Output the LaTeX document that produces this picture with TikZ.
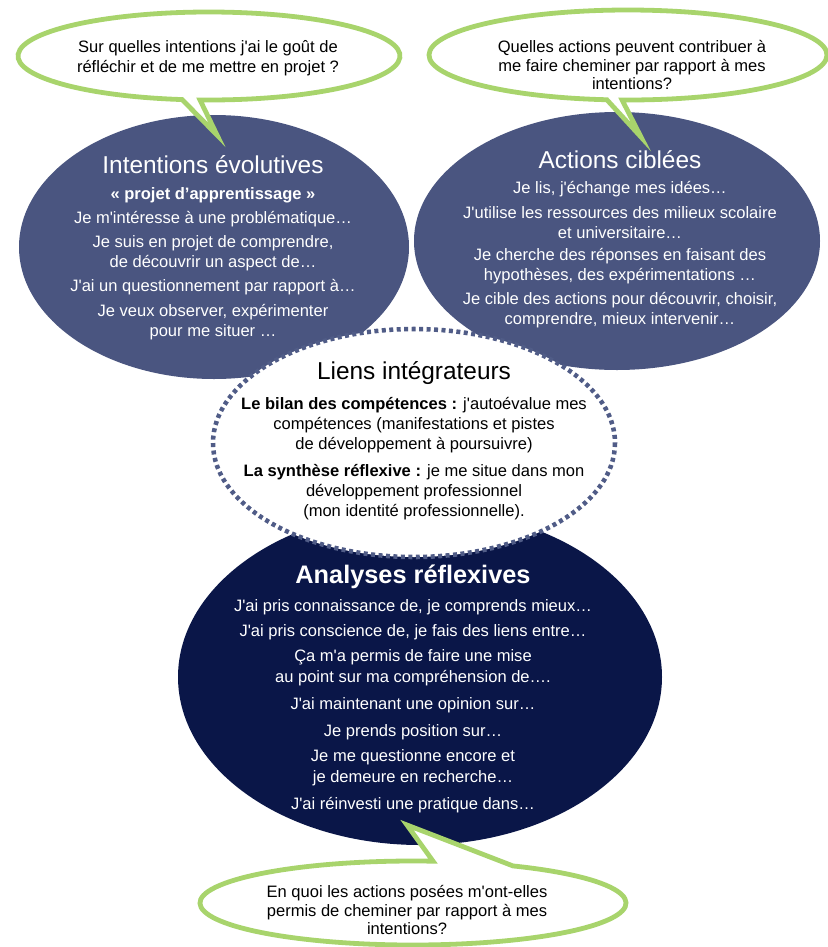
\documentclass[tikz,border=0pt]{standalone}
\usepackage{fontspec}
\setmainfont{Liberation Sans}[Ligatures=TeXOff]
\definecolor{slate}{RGB}{74,85,128}
\definecolor{deepnavy}{RGB}{10,22,72}
\definecolor{leaf}{RGB}{168,212,108}
\definecolor{dotc}{RGB}{80,92,135}
\tikzset{
  bubble/.style={draw=leaf, line width=3.6pt, fill=white, line join=miter},
  bodytxt/.style={align=center, inner sep=0pt, font=\fontsize{12.4}{15}\selectfont},
  boldtxt/.style={align=center, inner sep=0pt, font=\fontsize{12.4}{15}\selectfont\bfseries},
  bubtxt/.style={align=center, inner sep=0pt, text=black, font=\fontsize{12.4}{13.8}\selectfont},
  titletxt/.style={inner sep=0pt, font=\fontsize{18.3}{20}\selectfont},
  bigbold/.style={inner sep=0pt, font=\fontsize{19}{21}\selectfont\bfseries},
}
\begin{document}
\begin{tikzpicture}[x=0.75pt,y=-0.75pt]
\useasboundingbox (0,0) rectangle (828,947);
\fill[white] (0,0) rectangle (828,947);

% navy ellipses
\fill[slate] (214,247) ellipse [x radius=195, y radius=132];
\fill[slate] (617,241) ellipse [x radius=203, y radius=129];
\fill[deepnavy] (420,677) ellipse [x radius=242, y radius=168];

% dotted middle ellipse
\draw[dotc, fill=white, line width=3.4pt, dash pattern=on 3pt off 2.6pt] (414,443) ellipse [x radius=201, y radius=114];

% speech bubbles
\coordinate (tipA) at (217,135);
\coordinate (tipB) at (641,137);
\coordinate (tipC) at (407,825);
\draw[bubble] (209,56) ++(98.1:191 and 44) arc[start angle=98.1, end angle=452.7, x radius=191, y radius=44] -- (tipA) -- cycle;
\draw[bubble] (628,55) ++(96.1:199 and 45) arc[start angle=96.1, end angle=451.7, x radius=199, y radius=45] -- (tipB) -- cycle;
\draw[bubble] (413,903) ++(298:213 and 42) arc[start angle=298, end angle=635.4, x radius=213, y radius=42] -- (tipC) -- cycle;

% bubble texts
\node[bubtxt] (qA) at (208,58) {Sur quelles intentions j'ai le goût de\\[1.2pt]réfléchir et de me mettre en projet ?};
\node[bubtxt] (qB) at (632,65) {Quelles actions peuvent contribuer à\\me faire cheminer par rapport à mes\\intentions?};
\node[bubtxt] (qC) at (407,910) {En quoi les actions posées m'ont-elles\\permis de cheminer par rapport à mes\\intentions?};

% left ellipse texts
\begin{scope}[text=white]
\node[titletxt] (iT) at (213,165) {Intentions évolutives};
\node[boldtxt] (i0) at (213,195) {« projet d’apprentissage »};
\node[bodytxt] (i1) at (213,219) {Je m'intéresse à une problématique…};
\node[bodytxt] (i2) at (213,253) {Je suis en projet de comprendre,\\de découvrir un aspect de…};
\node[bodytxt] (i3) at (213,287) {J'ai un questionnement par rapport à…};
\node[bodytxt] (i4) at (213,322) {Je veux observer, expérimenter\\pour me situer …};

% right ellipse texts
\node[titletxt] (aT) at (620,160) {Actions ciblées};
\node[bodytxt] (a1) at (620,189) {Je lis, j'échange mes idées…};
\node[bodytxt] (a2) at (620,222.5) {J'utilise les ressources des milieux scolaire\\et universitaire…};
\node[bodytxt] (a3) at (620,266) {Je cherche des réponses en faisant des\\hypothèses, des expérimentations …};
\node[bodytxt] (a4) at (620,310) {Je cible des actions pour découvrir, choisir,\\comprendre, mieux intervenir…};

% bottom ellipse texts
\node[bigbold] (rT) at (413,577) {Analyses réflexives};
\node[bodytxt] (r1) at (413,607) {J'ai pris connaissance de, je comprends mieux…};
\node[bodytxt] (r2) at (413,632) {J'ai pris conscience de, je fais des liens entre…};
\node[bodytxt] (r3) at (413,668) {Ça m'a permis de faire une mise\\[1pt]au point sur ma compréhension de….};
\node[bodytxt] (r4) at (413,705) {J'ai maintenant une opinion sur…};
\node[bodytxt] (r5) at (413,732) {Je prends position sur…};
\node[bodytxt] (r6) at (413,768) {Je me questionne encore et\\[1pt]je demeure en recherche…};
\node[bodytxt] (r7) at (413,805) {J'ai réinvesti une pratique dans…};
\end{scope}

% middle texts
\node[titletxt, text=black] (lT) at (414,373) {Liens intégrateurs};
\node[bodytxt, text=black] (l1) at (414,425) {\textbf{Le bilan des compétences :} j'autoévalue mes\\compétences (manifestations et pistes\\de développement à poursuivre)};
\node[bodytxt, text=black] (l2) at (414,492) {\textbf{La synthèse réflexive :} je me situe dans mon\\développement professionnel\\(mon identité professionnelle).};
\end{tikzpicture}
\end{document}
